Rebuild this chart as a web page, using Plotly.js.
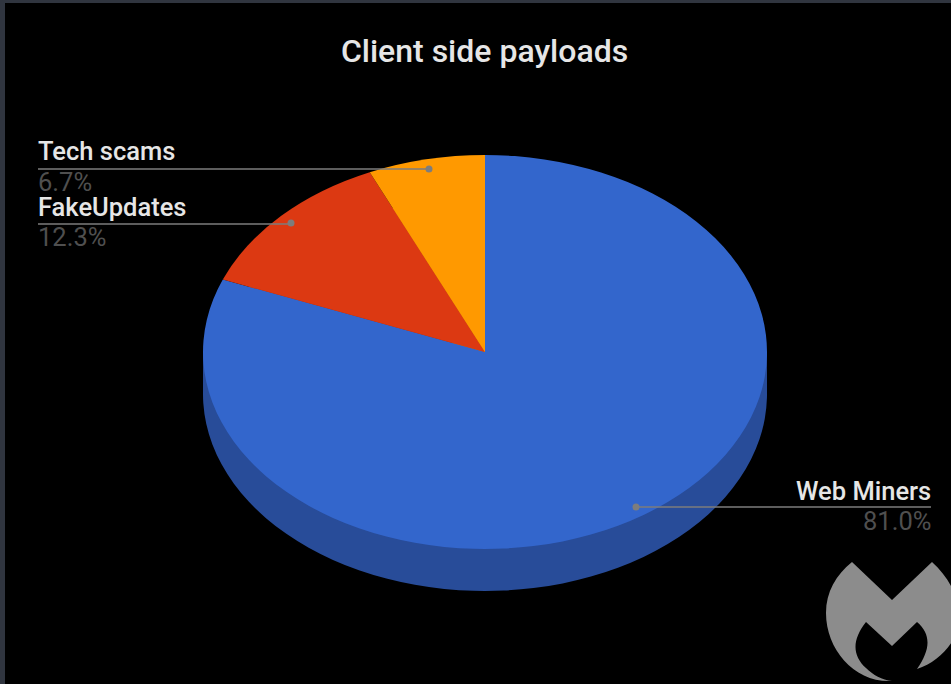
<!DOCTYPE html>
<html>
<head>
<meta charset="utf-8">
<title>Client side payloads</title>
<script src="https://cdn.plot.ly/plotly-3.0.1.min.js"></script>
<style>
  html, body { margin: 0; padding: 0; background: #000; overflow: hidden; }
  #chart { width: 951px; height: 684px; }
</style>
</head>
<body>
<div id="chart"></div>
<script>
// Payload shares, clockwise from twelve o'clock
const categories = ["Web Miners", "FakeUpdates", "Tech scams"];
const shares = [81.0, 12.3, 6.7];
const sliceColors = ["#3366cc", "#dc3912", "#ff9900"];
const wallColors = ["#284c99", "#a52b0e", "#bf7300"];

const W = 951, H = 684;
const px = x => x / W;
const py = y => 1 - y / H;

// Pie geometry in page pixels: a circle squashed into a tilted disc with a wall below it
const centre = { x: 485, y: 352 };
const radiusX = 282, radiusY = 197, depth = 42;
const squash = radiusY / radiusX;

const pieDomain = {
  x: [px(centre.x - radiusX), px(centre.x + radiusX)],
  y: [py(centre.y + radiusX), py(centre.y - radiusX)]
};

function pieTrace(colors) {
  return {
    type: "pie",
    labels: categories,
    values: shares,
    sort: false,
    direction: "clockwise",
    rotation: 0,
    textinfo: "none",
    hoverinfo: "none",
    showlegend: false,
    domain: pieDomain,
    marker: { colors: colors, line: { width: 0 } }
  };
}

// Callout placement for each category
const callouts = [
  { lineY: 507, fromX: 931, toX: 636, dotY: 507, anchor: "right", textX: 933, nameY: 491, valueY: 521 },
  { lineY: 224, fromX: 38, toX: 291, dotY: 223, anchor: "left", textX: 36, nameY: 207.5, valueY: 237 },
  { lineY: 169, fromX: 38, toX: 429, dotY: 169, anchor: "left", textX: 36, nameY: 151.5, valueY: 181.5 }
];

const labelFont = { family: "Roboto, sans-serif", size: 25.5, weight: 500, color: "#e6e6e6" };
const valueFont = { family: "Roboto, sans-serif", size: 25.5, color: "#4f4f4f" };
const leaderColor = "#7d7d7d";

const annotations = [];
const shapes = [
  // Side wall between the two outermost points of the disc
  {
    type: "rect", layer: "below", xref: "paper", yref: "paper",
    x0: px(centre.x - radiusX), x1: px(centre.x + radiusX),
    y0: py(centre.y), y1: py(centre.y + depth),
    fillcolor: wallColors[0], line: { width: 0 }
  }
];

categories.forEach((name, i) => {
  const c = callouts[i];
  annotations.push({
    xref: "paper", yref: "paper", x: px(c.textX), y: py(c.nameY),
    xanchor: c.anchor, yanchor: "middle", showarrow: false,
    text: name, font: labelFont
  });
  annotations.push({
    xref: "paper", yref: "paper", x: px(c.textX), y: py(c.valueY),
    xanchor: c.anchor, yanchor: "middle", showarrow: false,
    text: shares[i].toFixed(1) + "%", font: valueFont
  });
  shapes.push({
    type: "line", xref: "paper", yref: "paper",
    x0: px(c.fromX), x1: px(c.toX), y0: py(c.lineY), y1: py(c.lineY),
    line: { color: leaderColor, width: 1.5 }
  });
  shapes.push({
    type: "circle", xref: "paper", yref: "paper",
    x0: px(c.toX - 3.5), x1: px(c.toX + 3.5),
    y0: py(c.dotY + 3.5), y1: py(c.dotY - 3.5),
    fillcolor: leaderColor, line: { width: 0 }
  });
});

// Page frame along the top and left edges
const frameColor = "#30353f";
shapes.push(
  { type: "rect", xref: "paper", yref: "paper", x0: 0, x1: 1, y0: py(3), y1: 1, fillcolor: frameColor, line: { width: 0 } },
  { type: "rect", xref: "paper", yref: "paper", x0: 0, x1: px(5), y0: 0, y1: 1, fillcolor: frameColor, line: { width: 0 } }
);

// Logo mark in the lower right corner, cut off by the page edge
const P = (x, y) => px(x) + " " + py(y);
const logoPath = [
  "M", P(852, 562), "L", P(892, 600), "L", P(932, 562),
  "C", P(950, 578), P(960, 600), P(960, 620),
  "C", P(958, 640), P(940, 662), P(917, 669),
  "C", P(930, 650), P(932, 635), P(917, 622),
  "L", P(892, 646), "L", P(866, 622),
  "C", P(852, 640), P(852, 655), P(866, 668),
  "C", P(873, 675), P(882, 680), P(892, 681),
  "C", P(855, 683), P(826, 650), P(826, 613),
  "C", P(826, 592), P(836, 575), P(852, 562), "Z"
].join(" ");
shapes.push({
  type: "path", xref: "paper", yref: "paper", path: logoPath,
  fillcolor: "#8c8c8c", line: { width: 0 }
});

const layout = {
  width: W,
  height: H,
  margin: { l: 0, r: 0, t: 0, b: 0 },
  paper_bgcolor: "#000000",
  plot_bgcolor: "#000000",
  title: {
    text: "Client side payloads",
    x: px(484.5), xanchor: "center",
    y: py(51), yanchor: "middle",
    font: { family: "Roboto, sans-serif", size: 32, weight: 500, color: "#e6e6e6" }
  },
  shapes: shapes,
  annotations: annotations
};

// Tilt both discs, shifting the lower one down by the wall depth
function tiltPies() {
  document.querySelectorAll("#chart .pielayer .trace").forEach((g, i) => {
    const shift = i === 0 ? depth : 0;
    const dy = centre.y + shift - centre.y * squash;
    g.setAttribute("transform", "translate(0," + dy + ") scale(1," + squash + ")");
  });
}

Plotly.newPlot("chart", [pieTrace(wallColors), pieTrace(sliceColors)], layout, {
  displayModeBar: false,
  staticPlot: true
}).then(tiltPies);
</script>
</body>
</html>
